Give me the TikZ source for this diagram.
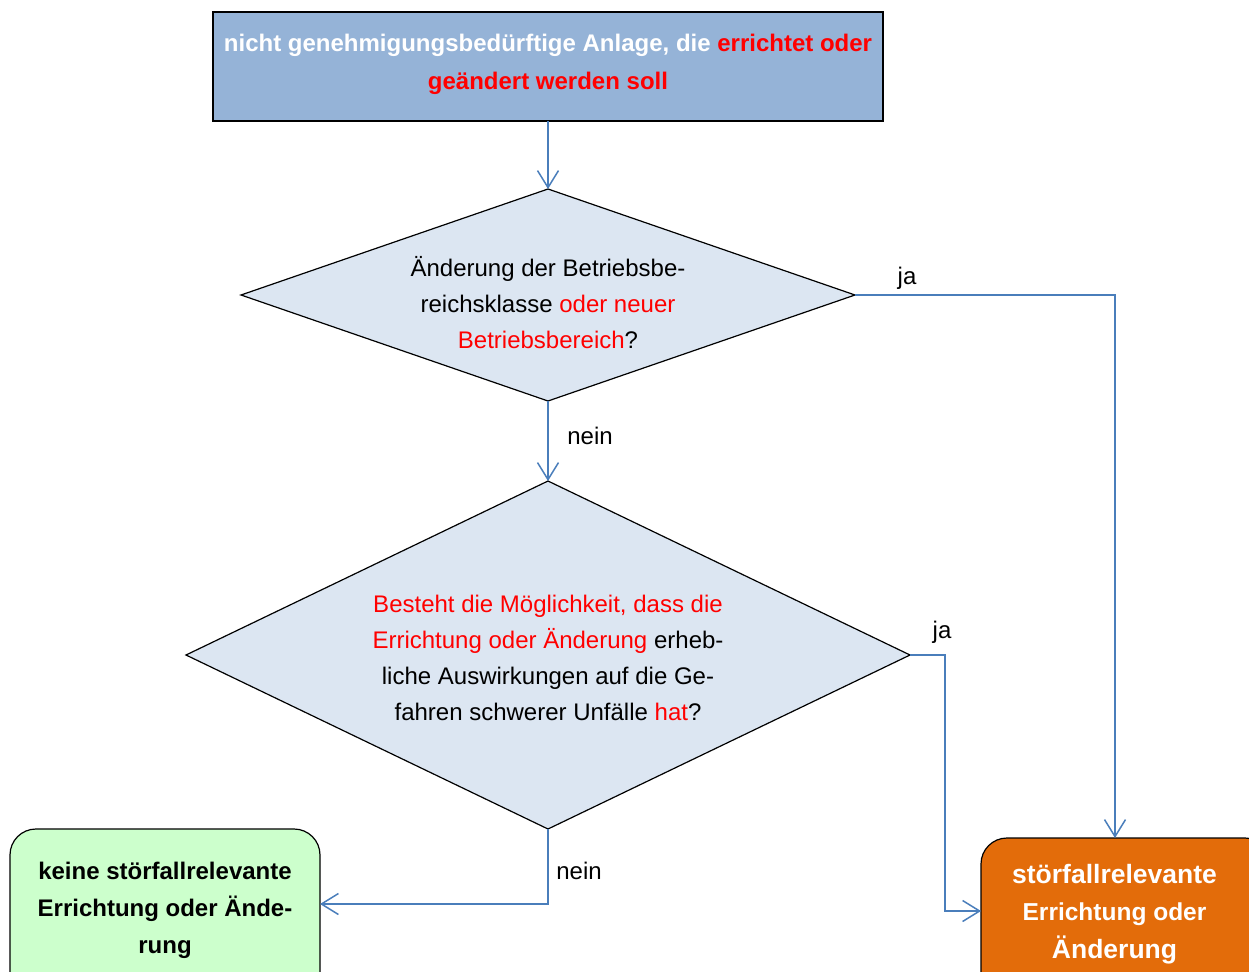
\documentclass[tikz,border=0pt]{standalone}
\usepackage{fontspec}
\setmainfont{Liberation Sans}
\usetikzlibrary{shapes.geometric,arrows.meta}
\definecolor{topfill}{RGB}{149,179,215}
\definecolor{diafill}{RGB}{220,230,242}
\definecolor{linkblue}{RGB}{74,126,187}
\definecolor{greenfill}{RGB}{204,255,204}
\definecolor{orangefill}{RGB}{227,108,10}
\definecolor{hl}{RGB}{255,0,0}
\tikzset{
  conn/.style={draw=linkblue, line width=1.5pt, -{Straight Barb[length=17pt,width=21pt,line width=1.5pt]}},
  topbox/.style={draw=black, line width=1.2pt, fill=topfill, rectangle, minimum width=670pt, minimum height=109pt, inner sep=0pt, outer sep=0pt},
  decision/.style={draw=black, line width=1.2pt, fill=diafill, diamond, inner sep=0pt, outer sep=0pt},
  endbox/.style={draw=black, line width=1.2pt, rectangle, rounded corners=26pt, inner sep=0pt, outer sep=0pt},
  txt/.style={align=center, inner sep=0pt, font=\fontsize{24}{36}\selectfont},
  btxt/.style={align=center, inner sep=0pt, font=\bfseries\fontsize{24}{38}\selectfont},
  lbl/.style={inner sep=0pt, font=\fontsize{24}{28}\selectfont},
}
\begin{document}
\begin{tikzpicture}[x=1pt, y=-1pt]
\useasboundingbox (0,0) rectangle (1249,971);
\clip (0,0) rectangle (1249,971);

% start box
\node[topbox] (start) at (548,66.5) {};
\node[btxt, text=white] (starttxt) at (548,64)
  {nicht genehmigungsbedürftige Anlage, die \textcolor{hl}{errichtet oder}\\
   \textcolor{hl}{geändert werden soll}};

% first decision
\node[decision, minimum width=614pt, minimum height=212pt] (d1) at (548,295) {};
\node[txt] (d1txt) at (548,303)
  {Änderung der Betriebsbe-\\
   reichsklasse \textcolor{hl}{oder neuer}\\
   \textcolor{hl}{Betriebsbereich}?};

% second decision
\node[decision, minimum width=724pt, minimum height=348pt] (d2) at (548,655) {};
\node[txt] (d2txt) at (548,658)
  {\textcolor{hl}{Besteht die Möglichkeit, dass die}\\
   \textcolor{hl}{Errichtung oder Änderung} erheb-\\
   liche Auswirkungen auf die Ge-\\
   fahren schwerer Unfälle \textcolor{hl}{hat}?};

% outcomes
\node[endbox, fill=greenfill, minimum width=310pt, minimum height=180pt] (keine) at (165,919) {};
\node[btxt, font=\bfseries\fontsize{24}{37}\selectfont] (keinetxt) at (165,910)
  {keine störfallrelevante\\Errichtung oder Ände-\\rung};

\node[endbox, fill=orangefill, minimum width=290pt, minimum height=180pt] (rel) at (1126,928) {};
\node[btxt, text=white, font=\bfseries\fontsize{26.5}{37.5}\selectfont] (reltxt) at (1114.5,914)
  {störfallrelevante\\
   {\fontsize{24.5}{37.5}\selectfont Errichtung oder}\\
   Änderung};

% connectors
\draw[conn] (start.south) -- (d1.north);
\draw[conn] (d1.south) -- (d2.north);
\draw[conn] (d1.east) -| ([xshift=-11pt]rel.north);
\coordinate (turn) at (945,655);
\draw[conn] (d2.east) -- (turn) |- ([yshift=17pt]rel.west);
\draw[conn] (d2.south) |- ([yshift=15pt]keine.east);

% branch labels
\node[lbl] (ja1) at (907,278) {ja};
\node[lbl] (nein1) at (590,436) {nein};
\node[lbl] (ja2) at (942,632) {ja};
\node[lbl] (nein2) at (579,871) {nein};
\end{tikzpicture}
\end{document}
